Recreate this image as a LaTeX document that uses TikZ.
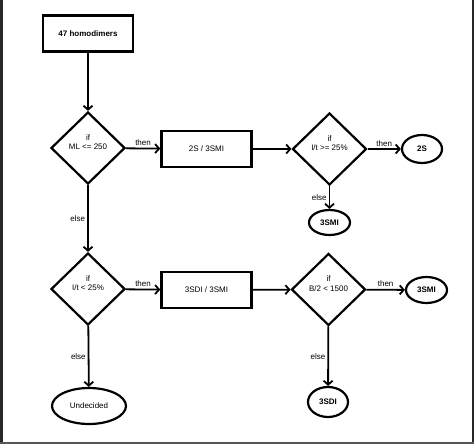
\documentclass[tikz,border=0pt]{standalone}
\usepackage{fontspec}
\setmainfont{Liberation Sans}
\definecolor{framegray}{RGB}{40,40,40}
\definecolor{basegray}{RGB}{85,85,85}
\usetikzlibrary{arrows.meta,positioning,shapes.geometric}

\begin{document}
\begin{tikzpicture}[
  x=1pt,y=-1pt,
  every node/.style={font=\fontsize{8}{9.6}\selectfont},
  stepbox/.style={draw,line width=2.4pt,minimum width=90pt,minimum height=36pt,inner sep=2pt},
  cond/.style={draw,diamond,line width=2.2pt,minimum width=74pt,minimum height=72pt,inner sep=0pt},
  condtext/.style={align=center,inner sep=0pt},
  endnode/.style={draw,ellipse,line width=2.2pt,inner sep=0pt,font=\fontsize{8}{9.6}\selectfont\bfseries},
  flow/.style={line width=1.8pt,-{Straight Barb[length=4pt,width=9pt,line width=1.8pt]}},
  branch/.style={inner sep=2pt},
]
  \useasboundingbox (0,0) rectangle (474,444);
  \fill[white] (0,0) rectangle (474,444);
  % frame edges
  \fill[framegray] (0,0) rectangle (3,444);
  \fill[framegray] (472,0) rectangle (474,444);
  \fill[basegray] (0,442) rectangle (474,444);

  % start
  \node[stepbox,font=\fontsize{8}{9.6}\selectfont\bfseries] (start) at (88,33.5) {47 homodimers};

  % first row
  \node[cond] (c1) at (88,148) {};
  \node[condtext] at ([yshift=6pt]c1.center) {if\\ML <= 250};
  \node[stepbox] (b1) at (206.5,149) {2S / 3SMI};
  \node[cond] (c2) at (329.5,149) {};
  \node[condtext] at ([yshift=6pt]c2.center) {if\\I/t >= 25\%};
  \node[endnode,minimum width=40pt,minimum height=28pt] (e2s) at (422,149) {2S};
  \node[endnode,minimum width=41pt,minimum height=25pt] (e3smi) at (329.5,222.5) {3SMI};

  % second row
  \node[cond] (c3) at (88,289) {};
  \node[condtext] at ([yshift=6pt]c3.center) {if\\I/t < 25\%};
  \node[stepbox] (b2) at (206.5,290) {3SDI / 3SMI};
  \node[cond] (c4) at (328.5,289.5) {};
  \node[condtext] at ([yshift=6pt]c4.center) {if\\B/2 < 1500};
  \node[endnode,minimum width=41pt,minimum height=26pt] (e3smib) at (426.5,290) {3SMI};
  \node[endnode,minimum width=40pt,minimum height=30pt] (e3sdi) at (328,402) {3SDI};
  \node[endnode,minimum width=74pt,minimum height=36pt,font=\fontsize{8}{9.6}\selectfont] (undec) at (89,406) {Undecided};

  % connectors
  \draw[flow] (start) -- (c1);
  \draw[flow] (c1) -- node[branch,above] {then} (b1);
  \draw[flow] (b1) -- (c2);
  \draw[flow] (c2) -- node[branch,above] {then} (e2s);
  \draw[flow] (c2) -- node[branch,left] {else} (e3smi);
  \draw[flow] (c1) -- node[branch,left] {else} (c3);
  \draw[flow] (c3) -- node[branch,above] {then} (b2);
  \draw[flow] (b2) -- (c4);
  \draw[flow] (c4) -- node[branch,above] {then} (e3smib);
  \draw[flow] (c4) -- node[branch,left] {else} (e3sdi);
  \draw[flow] (c3) -- node[branch,left] {else} (undec);
\end{tikzpicture}
\end{document}
